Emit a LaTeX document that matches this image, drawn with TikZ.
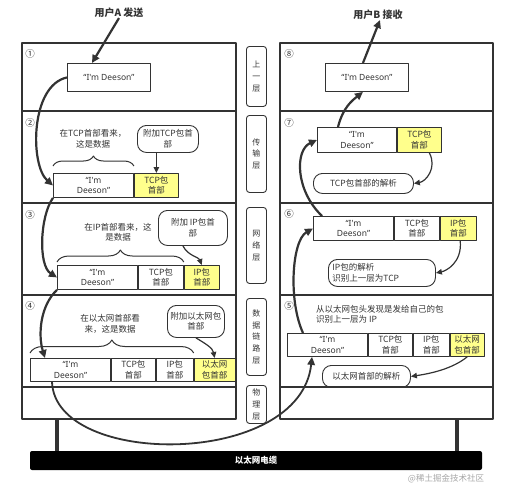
\documentclass[tikz,border=0pt]{standalone}
\usepackage{fontspec}
\setmainfont{Noto Sans CJK SC}
\newfontfamily\latin{Noto Sans}
\usetikzlibrary{positioning,arrows.meta,decorations.pathreplacing}
\definecolor{ink}{HTML}{333333}
\definecolor{hdr}{HTML}{FFFF8C}

\begin{document}
\begin{tikzpicture}[x=1pt, y=-1pt, line join=round,
    every node/.style={text=ink, inner sep=0, font=\fontsize{8.5}{10.5}\selectfont},
    frame/.style={draw=ink, line width=1.2pt},
    cell/.style={draw=ink, line width=0.9pt, minimum height=24, anchor=north west, align=center},
    deeson/.style={font=\latin\fontsize{8.5}{10.5}\selectfont},
    data/.style={cell, deeson, minimum width=80},
    hd/.style={cell, fill=hdr},
    bubble/.style={draw=ink, line width=0.9pt, rounded corners=9, anchor=north west, align=center},
    layer/.style={draw=ink, line width=0.9pt, rounded corners=3, minimum width=20, anchor=north west, align=center, font=\fontsize{8}{11.8}\selectfont},
    num/.style={font=\fontsize{9.5}{10}\selectfont},
    title/.style={font=\bfseries\fontsize{10}{12}\selectfont},
    flow/.style={draw=ink, line width=2.2pt, -{Triangle[length=8, width=7.5]}},
    note/.style={draw=ink, line width=1.2pt, -{Triangle[length=6, width=5.5]}},
    brc/.style={draw=ink, line width=1pt, decorate, decoration={brace, amplitude=#1}},
    leg/.style={draw=ink, line width=4pt}]

\useasboundingbox (0,0) rectangle (508,499);

\foreach \ya/\yb in {43/111,111/203,203/295,295/387,387/419}{
    \draw[frame] (22,\ya) rectangle (236,\yb);
    \draw[frame] (280,\ya) rectangle (493,\yb);
}
\foreach \n/\y/\k in {①/54/1,②/123/2,③/215/3,④/306/4}
    \node[num] (k\k) at (30,\y) {\n};
\foreach \n/\y/\k in {⑧/54/8,⑦/123/7,⑥/214/6,⑤/306/5}
    \node[num] (k\k) at (289,\y) {\n};

\node[title] (usera) at (119,13) {用户A 发送};
\node[title] (userb) at (378,15) {用户B 接收};

\node[cell, deeson, minimum width=83, minimum height=28] (m1) at (67,63) {“I'm Deeson”};
\node[cell, deeson, minimum width=83, minimum height=28] (m8) at (325,63) {“I'm Deeson”};

\node[data] (d2) at (53,173) {“I'm\\Deeson”};
\node[hd, minimum width=44, right=0pt of d2] (h2) {TCP包\\首部};
\node[bubble, minimum width=61, minimum height=27] (c2) at (137,125) {附加TCP包首\\部};
\node[align=center] (n2) at (93,139) {在TCP首部看来，\\这是数据};

\node[data] (d3) at (57,265) {“I'm\\Deeson”};
\node[cell, minimum width=45, right=0pt of d3] (t3) {TCP包\\首部};
\node[hd, minimum width=35, right=0pt of t3] (h3) {IP包\\首部};
\node[bubble, minimum width=69, minimum height=35] (c3) at (158,210) {附加 IP包首\\部};
\node[align=center] (n3) at (118,232) {在IP首部看来，这\\是数据};

\node[data, minimum height=23] (d4) at (30,358) {“I'm\\Deeson”};
\node[cell, minimum width=44, minimum height=23, right=0pt of d4] (t4) {TCP包\\首部};
\node[cell, minimum width=37, minimum height=23, right=0pt of t4] (i4) {IP包\\首部};
\node[hd, minimum width=41, minimum height=23, right=0pt of i4] (h4) {以太网\\包首部};
\node[bubble, minimum width=57, minimum height=32] (c4) at (167,305) {附加以太网包\\首部};
\node[align=center] (n4) at (110,324) {在以太网首部看\\来，这是数据};

\node[data, minimum width=79, minimum height=25] (d7) at (317,127) {“I'm\\Deeson”};
\node[hd, minimum width=44, minimum height=25, right=0pt of d7] (h7) {TCP包\\首部};
\node[bubble, minimum width=100, minimum height=20] (r7) at (313,173) {TCP包首部的解析};

\node[data] (d6) at (313,216) {“I'm\\Deeson”};
\node[cell, minimum width=45, right=0pt of d6] (t6) {TCP包\\首部};
\node[hd, minimum width=36, right=0pt of t6] (h6) {IP包\\首部};
\node[bubble, text width=99, inner xsep=4, minimum height=27, align=left] (r6) at (328,259) {IP包的解析\\识别上一层为TCP};

\node[anchor=north west, align=left] (s5) at (316,305) {从以太网包头发现是发给自己的包\\识别上一层为 IP};
\node[data, minimum height=23] (d5) at (287,333) {“I'm\\Deeson”};
\node[cell, minimum width=44, minimum height=23, right=0pt of d5] (t5) {TCP包\\首部};
\node[cell, minimum width=36, minimum height=23, right=0pt of t5] (i5) {IP包\\首部};
\node[hd, minimum width=34, minimum height=23, right=0pt of i5] (h5) {以太网\\包首部};
\node[bubble, minimum width=88, minimum height=22] (r5) at (322,365) {以太网首部的解析};

\node[layer, minimum height=60] (l1) at (246,46) {上\\一\\层};
\node[layer, minimum height=77] (l2) at (246,115) {传\\输\\层};
\node[layer, minimum height=76] (l3) at (246,207) {网\\络\\层};
\node[layer, minimum height=77] (l4) at (246,298) {数\\据\\链\\路\\层};
\node[layer, minimum height=38] (l5) at (246,385) {物\\理\\层};

\node[fill=black, rounded corners=2, minimum width=452, minimum height=19, text=white, font=\bfseries\fontsize{8.5}{10}\selectfont] (cable) at (256,460.5) {以太网电缆};
\coordinate (pa) at (57,419);
\coordinate (pb) at (457,419);
\draw[leg] (pa) -- (pa |- cable.north);
\draw[leg] (pb) -- (pb |- cable.north);
\node[text=black!35] (wm) at (446,479) {@稀土掘金技术社区};

\draw[brc=10] ([yshift=7]d2.north west) -- ([yshift=7]d2.north east);
\draw[brc=12] ([yshift=3]d3.north west) -- ([yshift=3]t3.north east);
\draw[brc=13] ([yshift=5]d4.north west) -- ([yshift=5]i4.north east);

\draw[note] (h2.north |- c2.south) -- (h2.north);
\draw[note] ([xshift=-10]c3.south) .. controls +(5,10) and +(-3,-8) .. (h3.north);
\draw[note] (c4.south) .. controls +(10,6) and +(-2,-10) .. (h4.north);
\draw[note] ([xshift=10]h7.south) .. controls +(8,15) and +(12,-2) .. (r7.east);
\draw[note] ([xshift=2]h6.south) .. controls +(2,22) and +(10,-2) .. (r6.east);
\draw[note] (h5.south) .. controls +(-15,12) and +(20,-3) .. (r5.east);

\draw[flow] (usera.south) -- ([xshift=-17]m1.north);
\draw[flow] (m1.west) .. controls +(-37,8) and +(-23,-20) .. (d2.west);
\draw[flow] (d2.south west) .. controls +(-13,18) and +(-19,-12) .. (d3.west);
\draw[flow] (d3.south west) .. controls +(-17,16) and +(-7,-23) .. ([xshift=15]d4.north west);
\draw[flow, line width=1.8pt] ([xshift=22]d4.south west) .. controls +(3,86) and +(-12,111) .. ([xshift=25]d5.south west);
\draw[flow] ([xshift=16]d5.north west) .. controls +(-15,-33) and +(-21,12) .. (d6.west);
\draw[flow] ([xshift=9]d6.north west) .. controls +(-27,-26) and +(-22,10) .. (d7.west);
\draw[flow] ([xshift=21]d7.north west) .. controls +(5,-20) and +(-10,8) .. ([xshift=-4]m8.south);
\draw[flow] ([xshift=-4]m8.north) -- ([xshift=2]userb.south);
\end{tikzpicture}
\end{document}
